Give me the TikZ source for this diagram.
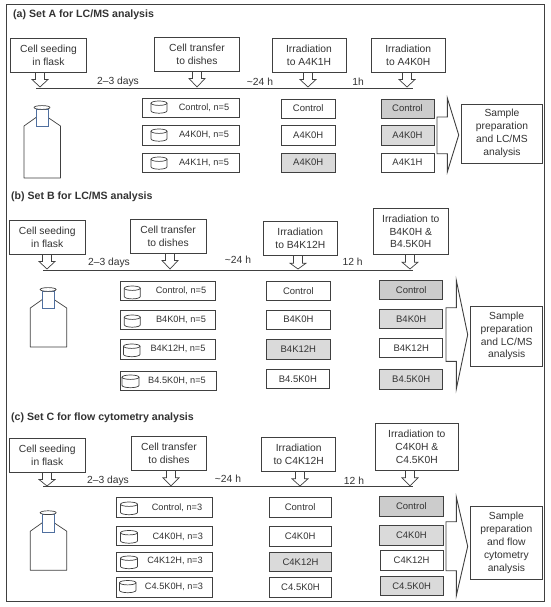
\documentclass[tikz,border=0pt]{standalone}
\usepackage{fontspec}
\setmainfont{Liberation Sans}
\definecolor{ink}{HTML}{333333}
\definecolor{edge}{HTML}{404040}
\definecolor{grayA}{HTML}{CCCCCC}
\definecolor{grayB}{HTML}{DADADA}
\definecolor{neck}{HTML}{4F6F9F}
\tikzset{
  boxbase/.style={draw=edge,line width=0.9pt,inner sep=0pt,outer sep=0pt,align=center,text=ink},
  stepbox/.style={boxbase,fill=white,font=\fontsize{10.3}{12.8}\selectfont},
  cellbox/.style={boxbase,fill=white,font=\fontsize{9.5}{12}\selectfont},
  shadeA/.style={fill=grayA},
  shadeB/.style={fill=grayB},
  timeline/.style={draw=edge,line width=0.9pt},
  lab/.style={inner sep=0pt,text=ink,font=\fontsize{10.3}{12}\selectfont},
  ttl/.style={inner sep=0pt,anchor=west,text=ink,font=\fontsize{10.6}{12}\selectfont\bfseries},
  dishtext/.style={inner sep=0pt,text=ink,font=\fontsize{9.2}{12}\selectfont},
  thin line/.style={draw=edge,line width=0.7pt},
}
% \bx[opts]{style}{name}{x1}{y1}{x2}{y2}{text}
\newcommand\bx[8][]{%
  \pgfmathsetmacro\bxw{#6-#4}\pgfmathsetmacro\bxh{#7-#5}%
  \pgfmathsetmacro\bxcx{(#6+#4)/2}\pgfmathsetmacro\bxcy{(#7+#5)/2}%
  \node[#2,#1,minimum width=\bxw pt,minimum height=\bxh pt] (#3) at (\bxcx,\bxcy) {#8};}
% down block arrow: x, top, tip
\newcommand\dn[3]{%
  \pgfmathsetmacro\da{#1-4.5}\pgfmathsetmacro\db{#1+4.5}%
  \pgfmathsetmacro\dc{#1-8}\pgfmathsetmacro\dd{#1+8}\pgfmathsetmacro\ds{#2+7.5}%
  \draw[thin line,fill=white] (\da,#2) -- (\da,\ds) -- (\dc,\ds) -- (#1,#3) -- (\dd,\ds) -- (\db,\ds) -- (\db,#2);}
% dish: x1,y1,x2,y2
\newcommand\dish[4]{%
  \pgfmathsetmacro\dcx{(#1+#3)/2}\pgfmathsetmacro\drx{(#3-#1)/2}%
  \pgfmathsetmacro\dt{#2+2.2}\pgfmathsetmacro\dbm{#4-2.2}%
  \draw[thin line] (#1,\dt) -- (#1,\dbm) arc[start angle=180,end angle=360,x radius=\drx pt,y radius=2.4pt] -- (#3,\dt);
  \draw[thin line] (\dcx,\dt) ellipse[x radius=\drx pt,y radius=2.2pt];}
% flask: left, right, neck left, neck right, cap y, bottom
\newcommand\flask[6]{%
  \pgfmathsetmacro\fj{#5+10}\pgfmathsetmacro\fs{#5+18.5}\pgfmathsetmacro\fnt{#5+1.5}\pgfmathsetmacro\fnb{#5+19.3}%
  \pgfmathsetmacro\fcx{(#3+#4)/2}%
  \draw[thin line,line join=round] (#3,\fj) -- (#1,\fs) -- (#1,#6) -- (#2,#6) -- (#2,\fs) -- (#4,\fj);
  \draw[draw=neck,line width=0.7pt,fill=white] (#3,\fnt) rectangle (#4,\fnb);
  \draw[thin line,fill=white] (\fcx,#5) ellipse[x radius=8pt,y radius=1.9pt];}
% big arrow: shaft x, neck x, tip x, shaft top, shaft bottom, head top, head bottom
\newcommand\bigarrow[7]{%
  \pgfmathsetmacro\bm{(#6+#7)/2}%
  \draw[thin line,line width=0.9pt] (#1,#4) -- (#2,#4) -- (#2,#6) -- (#3,\bm) -- (#2,#7) -- (#2,#5) -- (#1,#5) -- cycle;}
\begin{document}
\begin{tikzpicture}[x=1pt,y=-1pt]
\useasboundingbox (0,0) rectangle (550,607);
\fill[white] (0,0) rectangle (550,607);
\draw[edge,line width=1pt] (6.5,5) rectangle (544,601);

% ---------- Set A
\node[ttl] (ta) at (13,15) {(a) Set A for LC/MS analysis};
\coordinate (a0) at (36,88); \coordinate (a1) at (413,88);
\draw[timeline] (a0) -- (a1);
\dn{40}{72}{87}\dn{197}{71}{87}\dn{308}{72}{87}\dn{407}{72}{87}
\bx{stepbox}{as1}{10.5}{38}{86.5}{72}{Cell seeding\\in flask}
\bx{stepbox}{as2}{154.5}{37.5}{239.5}{71}{Cell transfer\\to dishes}
\bx{stepbox}{as3}{272}{38}{346}{72}{Irradiation\\to A4K1H}
\bx{stepbox}{as4}{371.5}{38}{445}{72}{Irradiation\\to A4K0H}
\node[lab] (al1) at (118,82) {2–3 days};
\node[lab] (al2) at (260,82) {\textasciitilde 24 h};
\node[lab] (al3) at (358,82) {1h};
\flask{24}{60.5}{36}{48}{107.5}{178}
\bx{cellbox}{ad1}{142.5}{98}{239}{117}{}
\bx{cellbox}{ad2}{142.5}{125}{239}{145}{}
\bx{cellbox}{ad3}{142.5}{153}{239}{172}{}
\dish{151}{101}{167}{113}\dish{151}{129}{167}{141}\dish{151}{157}{167}{169}
\node[dishtext] (adt1) at (204,107.5) {Control, n=5};
\node[dishtext] (adt2) at (204,135) {A4K0H, n=5};
\node[dishtext] (adt3) at (204,162.5) {A4K1H, n=5};
\bx{cellbox}{ac1}{281.5}{99}{335}{118}{Control}
\bx{cellbox}{ac2}{281.5}{125.5}{335}{145}{A4K0H}
\bx[shadeB]{cellbox}{ac3}{281.5}{153}{335}{172}{A4K0H}
\bx[shadeA]{cellbox}{ae1}{381}{99}{434}{118}{Control}
\bx[shadeB]{cellbox}{ae2}{381}{125.5}{434}{145}{A4K0H}
\bx{cellbox}{ae3}{381}{153}{434}{172}{A4K1H}
\bigarrow{437}{447.3}{458.7}{117}{153.7}{98}{172}
\bx{stepbox}{as5}{461.7}{104}{542.3}{163}{Sample\\preparation\\and LC/MS\\analysis}

% ---------- Set B
\node[ttl] (tb) at (11,197) {(b) Set B for LC/MS analysis};
\coordinate (b0) at (43,270); \coordinate (b1) at (412.7,270);
\draw[timeline] (b0) -- (b1);
\dn{47}{254}{269}\dn{170}{253}{269}\dn{298}{255.7}{269}\dn{410}{254.7}{269}
\bx{stepbox}{bs1}{9.5}{220}{85}{254}{Cell seeding\\in flask}
\bx{stepbox}{bs2}{130.3}{219.5}{206}{253}{Cell transfer\\to dishes}
\bx{stepbox}{bs3}{263.3}{221.7}{337.3}{255.7}{Irradiation\\to B4K12H}
\bx{stepbox}{bs4}{373.3}{208.3}{448.3}{254.7}{Irradiation to\\B4K0H \&\\B4.5K0H}
\node[lab] (bl1) at (109,263) {2–3 days};
\node[lab] (bl2) at (238,259.5) {\textasciitilde 24 h};
\node[lab] (bl3) at (352.7,262) {12 h};
\flask{30.3}{66.7}{42.3}{54}{289.5}{347}
\bx{cellbox}{bd1}{120.7}{281}{215.7}{300.7}{}
\bx{cellbox}{bd2}{120.7}{310}{215.7}{329.3}{}
\bx{cellbox}{bd3}{120.7}{339}{215.7}{359}{}
\bx{cellbox}{bd4}{120}{371}{216}{390.3}{}
\dish{124.3}{286}{140.3}{298.7}\dish{124.3}{315}{140.3}{327}\dish{123.5}{344}{140}{356.5}\dish{122}{375}{139}{387.5}
\node[dishtext] (bdt1) at (181,291) {Control, n=5};
\node[dishtext] (bdt2) at (181,320) {B4K0H, n=5};
\node[dishtext] (bdt3) at (178,348.7) {B4K12H, n=5};
\node[dishtext] (bdt4) at (177,380.5) {B4.5K0H, n=5};
\bx{cellbox}{bc1}{266.7}{281}{330}{300.7}{Control}
\bx{cellbox}{bc2}{266.7}{310}{330}{329.3}{B4K0H}
\bx[shadeB]{cellbox}{bc3}{266.7}{339.5}{330}{359}{B4K12H}
\bx{cellbox}{bc4}{266.7}{369}{329}{388.7}{B4.5K0H}
\bx[shadeA]{cellbox}{be1}{379.7}{280.3}{442.7}{299.7}{Control}
\bx[shadeB]{cellbox}{be2}{379.7}{309.3}{442.7}{328.7}{B4K0H}
\bx{cellbox}{be3}{379.7}{338}{442.7}{357.7}{B4K12H}
\bx[shadeB]{cellbox}{be4}{379.7}{369.7}{442.7}{389}{B4.5K0H}
\bigarrow{446}{456.3}{467.7}{307.7}{361.3}{280.3}{389}
\bx{stepbox}{bs5}{470.7}{306}{542.7}{366}{Sample\\preparation\\and LC/MS\\analysis}

% ---------- Set C
\node[ttl] (tc) at (11,418) {(c) Set C for flow cytometry analysis};
\coordinate (c0) at (43,486.3); \coordinate (c1) at (413,486.3);
\draw[timeline] (c0) -- (c1);
\dn{47}{472}{486}\dn{171}{470.3}{486}\dn{300}{471.3}{486}\dn{410}{470.3}{486}
\bx{stepbox}{cs1}{9.5}{438.3}{85}{472}{Cell seeding\\in flask}
\bx{stepbox}{cs2}{131.3}{436.7}{206.7}{470.3}{Cell transfer\\to dishes}
\bx{stepbox}{cs3}{261.7}{437.3}{335.7}{471.3}{Irradiation\\to C4K12H}
\bx{stepbox}{cs4}{375.3}{423.7}{458.3}{470.3}{Irradiation to\\C4K0H \&\\C4.5K0H}
\node[lab] (cl1) at (108,480.5) {2–3 days};
\node[lab] (cl2) at (228,478.5) {\textasciitilde 24 h};
\node[lab] (cl3) at (354,480.5) {12 h};
\flask{30.3}{66.7}{42.3}{54}{512.7}{570.3}
\bx{cellbox}{cd1}{116}{497.7}{212.3}{517}{}
\bx{cellbox}{cd2}{116}{526.7}{212.3}{545.7}{}
\bx{cellbox}{cd3}{116}{552}{212.3}{571}{}
\bx{cellbox}{cd4}{116}{577.3}{212.3}{597.3}{}
\dish{120.5}{502}{137.5}{514.5}\dish{120.5}{530.5}{137.5}{543}\dish{120.5}{556}{137.5}{568.5}\dish{119.5}{580.5}{136}{592.5}
\node[dishtext] (cdt1) at (177,507.5) {Control, n=3};
\node[dishtext] (cdt2) at (177.7,536.5) {C4K0H, n=3};
\node[dishtext] (cdt3) at (175,561) {C4K12H, n=3};
\node[dishtext] (cdt4) at (174,587) {C4.5K0H, n=3};
\bx{cellbox}{cc1}{269.3}{497.3}{331}{517.7}{Control}
\bx{cellbox}{cc2}{269.3}{526.3}{331}{546.3}{C4K0H}
\bx[shadeB]{cellbox}{cc3}{269.3}{552.3}{331.7}{571.7}{C4K12H}
\bx{cellbox}{cc4}{269.3}{577.3}{331.7}{597.3}{C4.5K0H}
\bx[shadeA]{cellbox}{ce1}{379.7}{496.7}{443}{516}{Control}
\bx[shadeB]{cellbox}{ce2}{379.7}{525.7}{443}{545}{C4K0H}
\bx{cellbox}{ce3}{380.3}{550.3}{443}{570}{C4K12H}
\bx[shadeB]{cellbox}{ce4}{380.3}{576.3}{443}{595.7}{C4.5K0H}
\bigarrow{446}{456.3}{467.7}{521.7}{570.7}{497}{595.7}
\bx{stepbox}{cs5}{470}{506.3}{542.7}{579.3}{Sample\\preparation\\and flow\\cytometry\\analysis}
\end{tikzpicture}
\end{document}
